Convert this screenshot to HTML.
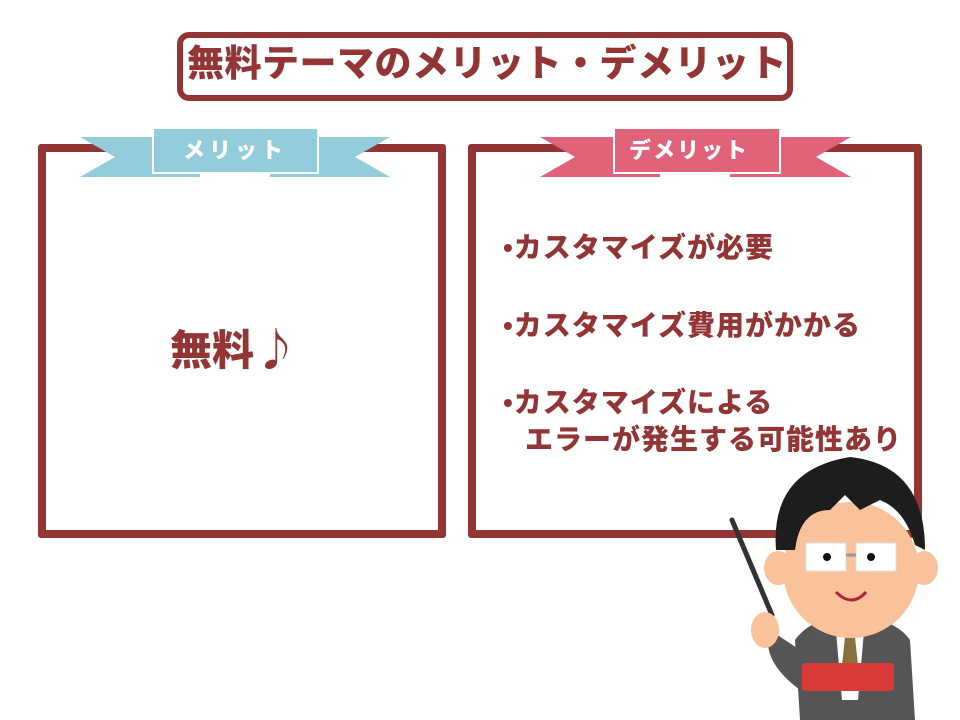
<!DOCTYPE html>
<html><head><meta charset="utf-8"><style>
body{margin:0;width:960px;height:720px;background:#fff;position:relative;overflow:hidden;font-family:"Liberation Sans","Noto Sans CJK JP",sans-serif;font-weight:900;color:#933535}
.abs{position:absolute}
.box{position:absolute;border:8px solid #933535;border-radius:3px;box-sizing:border-box;background:#fff}
.t{position:absolute;white-space:nowrap;font-size:28px;letter-spacing:1px;line-height:1}
</style></head><body>
<div class="abs" style="left:177px;top:32px;width:616px;height:69px;border:6px solid #933535;border-radius:12px;box-sizing:border-box"></div>
<div class="abs" style="left:187px;top:45px;font-size:37px;letter-spacing:0.5px;line-height:1;white-space:nowrap">無料テーマのメリット・デメリット</div>

<div class="box" style="left:38px;top:144px;width:408px;height:394px"></div>
<div class="box" style="left:468px;top:144px;width:454px;height:394px"></div>

<svg class="abs" style="left:0;top:0" width="960" height="720">
 <polygon points="80,137 200,137 200,177 80,177 115,157" fill="#93cddc"/>
 <polygon points="390,137 270,137 270,177 390,177 355,157" fill="#93cddc"/>
 <rect x="153" y="128" width="165" height="45" fill="#93cddc" stroke="#fff" stroke-width="2"/>
 <polygon points="540,137 660,137 660,177 540,177 575,157" fill="#e0637a"/>
 <polygon points="851,137 730,137 730,177 851,177 816,157" fill="#e0637a"/>
 <rect x="614" y="128" width="166" height="45" fill="#e0637a" stroke="#fff" stroke-width="2"/>
 <line x1="732" y1="520" x2="772" y2="615" stroke="#333" stroke-width="5" stroke-linecap="round"/>
 <path d="M800,720 L795,640 Q810,618 850,615 Q895,618 910,640 L915,720 Z" fill="#555"/>
 <path d="M770,630 Q760,660 800,690 L815,660 Z" fill="#555"/>
 <polygon points="835,620 865,620 858,700 842,700" fill="#fff"/>
 <polygon points="846,628 854,628 858,665 850,675 842,665" fill="#8a7040"/>
 <ellipse cx="765" cy="630" rx="14" ry="18" fill="#f9c29a"/>
 <rect x="802" y="663" width="92" height="28" rx="4" fill="#d93a3a"/>
 <ellipse cx="778" cy="568" rx="14" ry="17" fill="#f9c29a"/>
 <ellipse cx="924" cy="568" rx="14" ry="17" fill="#f9c29a"/>
 <ellipse cx="851" cy="570" rx="68" ry="68" fill="#f9c29a"/>
 <path d="M776,550 Q770,470 850,457 Q925,465 925,550 L915,545 Q905,510 880,500 L860,510 L845,495 L830,510 Q800,510 795,550 Z" fill="#1d1d1d"/>
 <rect x="806" y="543" width="40" height="28" fill="#fff" stroke="#ddd"/>
 <rect x="856" y="543" width="40" height="28" fill="#fff" stroke="#ddd"/>
 <line x1="846" y1="555" x2="856" y2="555" stroke="#999" stroke-width="3"/>
 <circle cx="827" cy="557" r="4" fill="#111"/><circle cx="871" cy="557" r="4" fill="#111"/>
 <path d="M836,592 Q852,608 866,592" fill="none" stroke="#b3203a" stroke-width="3"/>
</svg>

<div class="abs" style="left:183px;top:140px;font-size:22px;color:#fff;letter-spacing:4px;line-height:1">メリット</div>
<div class="abs" style="left:629px;top:140px;font-size:22px;color:#fff;letter-spacing:2px;line-height:1">デメリット</div>

<div class="abs" style="left:170px;top:324px;font-size:42px;line-height:1;white-space:nowrap">無料<span style="font-family:'Noto Sans CJK JP',sans-serif;font-size:44px">♪</span></div>

<div class="t" style="left:503px;top:234px">•カスタマイズが必要</div>
<div class="t" style="left:503px;top:312px">•カスタマイズ費用がかかる</div>
<div class="t" style="left:503px;top:389px">•カスタマイズによる</div>
<div class="t" style="left:525px;top:426px">エラーが発生する可能性あり</div>
</body></html>
